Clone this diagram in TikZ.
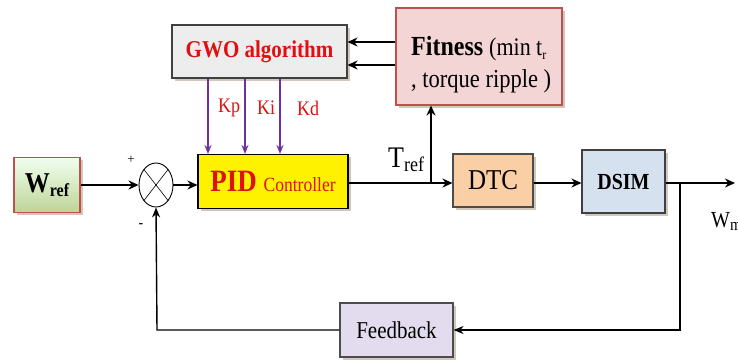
\documentclass[tikz,border=0pt]{standalone}
\usepackage{fontspec}
\setmainfont{Liberation Serif}
\usetikzlibrary{shapes.geometric,shadows,arrows.meta}
\definecolor{txtred}{HTML}{E01010}
\definecolor{kpurple}{HTML}{7030A0}
\definecolor{boxred}{HTML}{C0504D}
\newcommand{\fs}[1]{\fontsize{#1}{#1}\selectfont}
\newcommand{\lowsub}[2]{\raisebox{-0.35ex}{\fs{#1}#2}}
\newcommand{\tall}[1]{\scalebox{1}[1.15]{#1}}
\tikzset{
  blk/.style={draw, line width=1.1pt, rectangle, inner sep=0pt, align=center,
    drop shadow={shadow xshift=2.5pt, shadow yshift=-2.5pt, fill=black!45!brown!60}},
  sig/.style={line width=2pt, -{Stealth[length=10pt,width=9pt]}},
  fbline/.style={line width=1.4pt},
  kline/.style={line width=1.5pt, draw=kpurple, -{Stealth[length=9pt,width=7pt]}},
  lbl/.style={inner sep=0pt}
}
\begin{document}
\begin{tikzpicture}[x=1pt,y=-1pt]
\useasboundingbox (0,0) rectangle (738,360);

% blocks
\node[blk, draw=boxred, minimum width=66pt, minimum height=55pt,
      top color=green!6!white, bottom color={rgb,255:red,190;green,212;blue,150}] (wref) at (47,185)
      {\tall{\fs{25}\textbf{W\lowsub{16}{ref}}}};
\node[draw, line width=0.9pt, ellipse, minimum width=34pt, minimum height=44pt, inner sep=0pt, fill=white] (sum) at (156,185) {};
\draw[line width=0.6pt] (sum.north west) -- (sum.south east);
\draw[line width=0.6pt] (sum.north east) -- (sum.south west);

\node[blk, fill=yellow, minimum width=150pt, minimum height=54pt] (pid) at (273,181.5)
      {\tall{\color{txtred}\fs{27}\textbf{PID} \fs{17.5}Controller}};
\node[blk, draw=black!75, fill=black!7, minimum width=175pt, minimum height=53pt] (gwo) at (259.5,51.5)
      {\tall{\color{txtred}\fs{21}\textbf{GWO algorithm}}};
\node[blk, draw=boxred, fill={rgb,255:red,242;green,213;blue,212}, minimum width=166pt, minimum height=97pt] (fit) at (479,56.5) {};
\node[lbl, anchor=base west] (fit1) at (411,55)
      {\tall{\fs{24}\textbf{Fitness} \fs{22}(min t\lowsub{12}{r}}};
\node[lbl, anchor=base west] (fit2) at (411,87)
      {\tall{\fs{22.5}, torque ripple )}};
\node[blk, draw=black!70, fill={rgb,255:red,251;green,207;blue,166}, minimum width=80pt, minimum height=53pt] (dtc) at (493,180.5)
      {\tall{\fs{25}DTC}};
\node[blk, draw=black!75, fill={rgb,255:red,214;green,225;blue,239}, minimum width=83pt, minimum height=63pt] (dsim) at (623.5,181.5)
      {\tall{\fs{20}\textbf{DSIM}}};
\node[blk, draw=black!70, fill={rgb,255:red,227;green,220;blue,238}, minimum width=113pt, minimum height=54pt] (fb) at (396.5,330)
      {\tall{\fs{21}Feedback}};

% helper coordinates
\coordinate (tb) at (431,183);
\coordinate (ob) at (680,183);
\coordinate (out) at (735,183);
\coordinate (fbr) at (680,330);
\coordinate (fbl) at (157,330);
\coordinate (ya) at (0,42);
\coordinate (yb) at (0,65);
\coordinate (k1) at (208,0);
\coordinate (k2) at (245,0);
\coordinate (k3) at (280,0);

% forward path
\draw[sig] (wref.east |- sum.west) -- (sum.west);
\draw[sig] (sum.east) -- (sum.east -| pid.west);
\draw[line width=2pt] (pid.east |- tb) -- (tb);
\draw[sig] (tb) -- (tb -| dtc.west);
\draw[sig] (tb) -- (tb |- fit.south);
\draw[sig] (dtc.east |- tb) -- (tb -| dsim.west);
\draw[sig] (dsim.east |- ob) -- (out);

% optimiser links
\draw[sig] (fit.west |- ya) -- (gwo.east |- ya);
\draw[sig] (fit.west |- yb) -- (gwo.east |- yb);
\draw[kline] (gwo.south -| k1) -- (pid.north -| k1);
\draw[kline] (gwo.south -| k2) -- (pid.north -| k2);
\draw[kline] (gwo.south -| k3) -- (pid.north -| k3);

% feedback loop
\draw[fbline, -{Stealth[length=10pt,width=8pt]}] (ob) -- (fbr) -- (fb.east);
\draw[fbline, -{Stealth[length=10pt,width=8pt]}] (fb.west) -- (fbl) -- (sum.south);

% labels
\node[lbl, txtred] (kp) at (229,108) {\tall{\fs{18}Kp}};
\node[lbl, txtred] (ki) at (266,108) {\tall{\fs{18}Ki}};
\node[lbl, txtred] (kd) at (308,108) {\tall{\fs{18}Kd}};
\node[lbl] (plus) at (131,160) {\fs{13}+};
\node[lbl] (minus) at (141,226) {\fs{14}\textbf{-}};
\node[lbl, anchor=base west] (tref) at (388,167) {\tall{\fs{26}T\lowsub{18}{ref}}};
\node[lbl, anchor=base west] (wm) at (711,227) {\tall{\fs{20}W\lowsub{15}{m}}};
\end{tikzpicture}
\end{document}
